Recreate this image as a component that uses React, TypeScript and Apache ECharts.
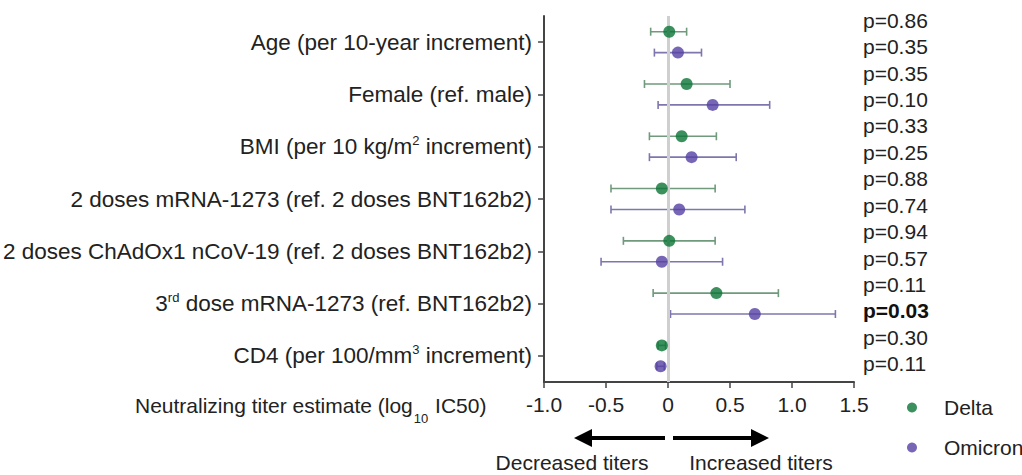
import React, { useEffect, useRef } from "react";
import * as echarts from "echarts";

const categories = [
  "Age (per 10-year increment)",
  "Female (ref. male)",
  "BMI (per 10 kg/m² increment)",
  "2 doses mRNA-1273 (ref. 2 doses BNT162b2)",
  "2 doses ChAdOx1 nCoV-19 (ref. 2 doses BNT162b2)",
  "3rd dose mRNA-1273 (ref. BNT162b2)",
  "CD4 (per 100/mm³ increment)",
];

const deltaEst = [0.01, 0.15, 0.11, -0.05, 0.01, 0.39, -0.05];
const deltaLow = [-0.14, -0.19, -0.15, -0.46, -0.36, -0.12, -0.08];
const deltaHigh = [0.15, 0.5, 0.39, 0.38, 0.38, 0.89, -0.02];

const omicronEst = [0.08, 0.36, 0.19, 0.09, -0.05, 0.7, -0.06];
const omicronLow = [-0.11, -0.08, -0.15, -0.46, -0.54, 0.02, -0.09];
const omicronHigh = [0.27, 0.82, 0.55, 0.62, 0.44, 1.35, -0.03];

const deltaP = ["0.86", "0.35", "0.33", "0.88", "0.94", "0.11", "0.30"];
const omicronP = ["0.35", "0.10", "0.25", "0.74", "0.57", "0.03", "0.11"];

const xTicks = { min: -1, max: 1.5, interval: 0.5 };

const FONT = "'Liberation Sans', Arial, Helvetica, sans-serif";
const DELTA = "#0a7436";
const OMICRON = "#5540a3";
const DELTA_BAR = "#6f9a7c";
const OMICRON_BAR = "#7d77ad";
const ROW_OFFSET = 0.2;

function catLabel(s: string): string {
  return s
    .replace("²", "{sup|2}")
    .replace("³", "{sup|3}")
    .replace(/^3rd/, "3{sup|rd}");
}

function errorBarRender(color: string) {
  return (params: any, api: any) => {
    const y = api.value(2);
    const p1 = api.coord([api.value(0), y]);
    const p2 = api.coord([api.value(1), y]);
    const cap = 4;
    const style = { stroke: color, lineWidth: 1.6 };
    return {
      type: "group",
      children: [
        { type: "line", shape: { x1: p1[0], y1: p1[1], x2: p2[0], y2: p2[1] }, style },
        { type: "line", shape: { x1: p1[0], y1: p1[1] - cap, x2: p1[0], y2: p1[1] + cap }, style },
        { type: "line", shape: { x1: p2[0], y1: p2[1] - cap, x2: p2[0], y2: p2[1] + cap }, style },
      ],
    };
  };
}

export default function App() {
  const ref = useRef<HTMLDivElement>(null);
  useEffect(() => {
    if (!ref.current) return;
    const chart = echarts.init(ref.current, null, { renderer: "svg" });

    const pLabels: string[] = [];
    deltaP.forEach((d, i) => {
      pLabels.push("p=" + d);
      pLabels.push("p=" + omicronP[i]);
    });

    const deltaBars = categories.map((_, i) => [deltaLow[i], deltaHigh[i], i - ROW_OFFSET]);
    const omicronBars = categories.map((_, i) => [omicronLow[i], omicronHigh[i], i + ROW_OFFSET]);
    const deltaPts = categories.map((_, i) => [deltaEst[i], i - ROW_OFFSET]);
    const omicronPts = categories.map((_, i) => [omicronEst[i], i + ROW_OFFSET]);

    const ax = 544;
    const zeroX = 669;
    const arrowY = 438;

    chart.setOption({
      animation: false,
      backgroundColor: "#ffffff",
      textStyle: { fontFamily: FONT },
      grid: [
        { left: ax, right: 1022 - 854, top: 16, bottom: 475 - 382 },
        { left: 850, width: 4, top: 7, height: 370 },
      ],
      xAxis: [
        {
          type: "value",
          gridIndex: 0,
          min: xTicks.min,
          max: xTicks.max,
          interval: xTicks.interval,
          splitLine: { show: false },
          axisLine: { show: true, onZero: false, lineStyle: { color: "#444", width: 2 } },
          axisTick: { show: true, length: 6, lineStyle: { color: "#444", width: 1.5 } },
          axisLabel: {
            fontSize: 21,
            color: "#222",
            fontFamily: FONT,
            margin: 12,
            formatter: (v: number) => (v === 0 ? "0" : v.toFixed(1)),
          },
        },
        { type: "value", gridIndex: 1, show: false },
      ],
      yAxis: [
        {
          type: "category",
          gridIndex: 0,
          data: categories,
          inverse: true,
          axisLine: { show: true, onZero: false, lineStyle: { color: "#444", width: 2 } },
          axisTick: { show: true, length: 6, alignWithLabel: true, lineStyle: { color: "#444", width: 1.5 } },
          axisLabel: {
            interval: 0,
            fontSize: 22.5,
            color: "#222",
            fontFamily: FONT,
            margin: 12,
            lineHeight: 26,
            formatter: (v: string) => catLabel(v),
            rich: {
              sup: { fontSize: 13, lineHeight: 26, verticalAlign: "top", padding: [0, 0, 12, 0], color: "#222", fontFamily: FONT },
            },
          },
        },
        {
          type: "value",
          gridIndex: 0,
          min: -0.5,
          max: 6.5,
          inverse: true,
          show: false,
        },
        {
          type: "category",
          gridIndex: 1,
          data: pLabels,
          inverse: true,
          position: "right",
          axisLine: { show: false },
          axisTick: { show: false },
          axisLabel: {
            interval: 0,
            margin: 9,
            fontSize: 21,
            color: "#222",
            fontFamily: FONT,
            formatter: (v: string) => (parseFloat(v.slice(2)) < 0.05 ? "{b|" + v + "}" : v),
            rich: { b: { fontWeight: "bold", fontSize: 21, color: "#111", fontFamily: FONT } },
          },
        },
      ],
      legend: {
        data: ["Delta", "Omicron"],
        orient: "vertical",
        left: 902,
        top: 392,
        itemWidth: 10,
        itemHeight: 10,
        itemGap: 19,
        textStyle: { fontSize: 21, color: "#222", fontFamily: FONT, padding: [0, 0, 0, 22] },
      },
      series: [
        {
          name: "Delta CI",
          type: "custom",
          xAxisIndex: 0,
          yAxisIndex: 1,
          renderItem: errorBarRender(DELTA_BAR),
          encode: { x: [0, 1], y: 2 },
          data: deltaBars,
          z: 3,
          markLine: {
            silent: true,
            symbol: "none",
            label: { show: false },
            lineStyle: { color: "#cfcfcf", width: 3, type: "solid" },
            data: [{ xAxis: 0 }],
          },
        },
        {
          name: "Omicron CI",
          type: "custom",
          xAxisIndex: 0,
          yAxisIndex: 1,
          renderItem: errorBarRender(OMICRON_BAR),
          encode: { x: [0, 1], y: 2 },
          data: omicronBars,
          z: 3,
        },
        {
          name: "Delta",
          type: "scatter",
          xAxisIndex: 0,
          yAxisIndex: 1,
          symbol: "circle",
          symbolSize: 12,
          itemStyle: { color: DELTA },
          data: deltaPts,
          z: 5,
        },
        {
          name: "Omicron",
          type: "scatter",
          xAxisIndex: 0,
          yAxisIndex: 1,
          symbol: "circle",
          symbolSize: 12,
          itemStyle: { color: OMICRON },
          data: omicronPts,
          z: 5,
        },
      ],
      graphic: [
        {
          type: "text",
          left: 135,
          top: 395,
          style: {
            text: "{n|Neutralizing titer estimate (log}{sub|10}{n| IC50)}",
            rich: {
              n: { fontSize: 21, fontFamily: FONT, fill: "#222", lineHeight: 30, verticalAlign: "top" },
              sub: { fontSize: 13, fontFamily: FONT, fill: "#222", lineHeight: 30, verticalAlign: "bottom", padding: [11, 1, 0, 1] },
            },
          },
        },
        {
          type: "line",
          shape: { x1: zeroX - 4, y1: arrowY, x2: 590, y2: arrowY },
          style: { stroke: "#000", lineWidth: 4 },
        },
        {
          type: "polygon",
          shape: { points: [[574, arrowY], [592, arrowY - 9], [592, arrowY + 9]] },
          style: { fill: "#000" },
        },
        {
          type: "line",
          shape: { x1: zeroX + 4, y1: arrowY, x2: 752, y2: arrowY },
          style: { stroke: "#000", lineWidth: 4 },
        },
        {
          type: "polygon",
          shape: { points: [[769, arrowY], [751, arrowY - 9], [751, arrowY + 9]] },
          style: { fill: "#000" },
        },
        {
          type: "text",
          x: 572,
          y: 462,
          style: { text: "Decreased titers", fontSize: 21, fontFamily: FONT, fill: "#222", align: "center", verticalAlign: "middle" },
        },
        {
          type: "text",
          x: 761,
          y: 462,
          style: { text: "Increased titers", fontSize: 21, fontFamily: FONT, fill: "#222", align: "center", verticalAlign: "middle" },
        },
      ],
    });
    return () => chart.dispose();
  }, []);
  return (
    <div
      ref={ref}
      style={{ position: "fixed", left: 0, top: 0, width: 1022, height: 475, background: "#fff" }}
    />
  );
}
